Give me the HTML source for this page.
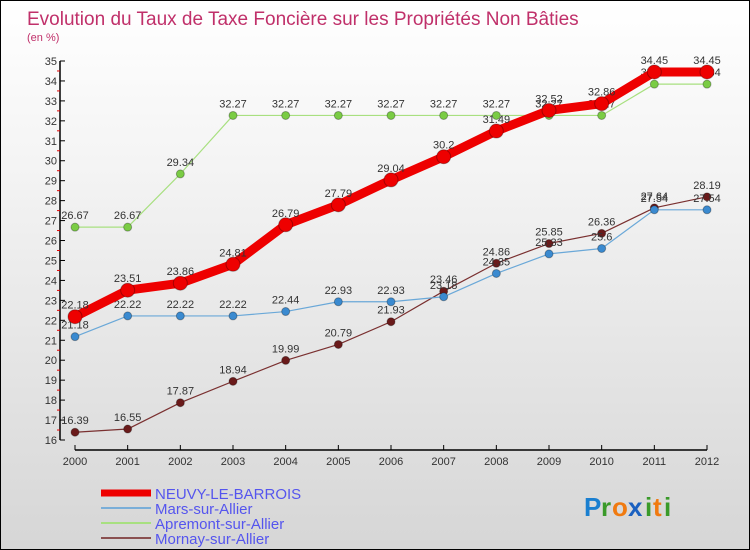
<!DOCTYPE html>
<html><head><meta charset="utf-8"><style>
body{margin:0;}
#wrap{width:748px;height:548px;border:1px solid #000;background:linear-gradient(#ffffff,#f4f4f4 30%,#d6d6d6);position:relative;overflow:hidden;font-family:"Liberation Sans",sans-serif;}
svg text{font-family:"Liberation Sans",sans-serif;}
</style></head><body>
<div id="wrap">
<svg id="chart" width="748" height="548">
<text x="26" y="24" font-size="19" fill="#c0306a">Evolution du Taux de Taxe Foncière sur les Propriétés Non Bâties</text>
<text x="26" y="40" font-size="11" fill="#c0306a">(en %)</text>
<g id="axes"></g><g id="series"></g><g id="legend"></g>
<g font-size="26" font-weight="bold">
<text x="583" y="515" fill="#1a7fd0">P</text><text x="600" y="515" fill="#3a9a2a">r</text><text x="611" y="515" fill="#f07a10">o</text><text x="627" y="515" fill="#1a60c0">x</text><text x="644" y="515" fill="#3a9a2a">i</text><text x="652" y="515" fill="#f07a10">t</text><text x="663" y="515" fill="#3a9a2a">i</text>
</g>
</svg></div>
<script>
const years=[2000,2001,2002,2003,2004,2005,2006,2007,2008,2009,2010,2011,2012];
const neuvy=[22.18,23.51,23.86,24.81,26.79,27.79,29.04,30.2,31.49,32.52,32.86,34.45,34.45];
const mars=[21.18,22.22,22.22,22.22,22.44,22.93,22.93,23.18,24.35,25.33,25.6,27.54,27.54];
const apremont=[26.67,26.67,29.34,32.27,32.27,32.27,32.27,32.27,32.27,32.27,32.27,33.84,33.84];
const mornay=[16.39,16.55,17.87,18.94,19.99,20.79,21.93,23.46,24.86,25.85,26.36,27.64,28.19];
const yTicks=[16,17,18,19,20,21,22,23,24,25,26,27,28,29,30,31,32,33,34,35];
const seriesNames=["NEUVY-LE-BARROIS","Mars-sur-Allier","Apremont-sur-Allier","Mornay-sur-Allier"];
const NS="http://www.w3.org/2000/svg";
const x=i=>74+(i)*(632/12);
const y=v=>439-(v-16)*(379/19);
function mk(tag,attrs,parent){const e=document.createElementNS(NS,tag);for(const k in attrs)e.setAttribute(k,attrs[k]);parent.appendChild(e);return e;}
const ax=document.getElementById('axes');
let a=mk('line',{x1:59,y1:y(35),x2:59,y2:y(16),stroke:'#000','stroke-width':1.5},ax);


a=mk('line',{x1:74,y1:449,x2:706,y2:449,stroke:'#000','stroke-width':1.5},ax);


yTicks.forEach(t=>{
 mk('line',{x1:59,y1:y(t),x2:64,y2:y(t),stroke:'#000'},ax);
 if(t<35)mk('line',{x1:56,y1:y(t+0.5),x2:59,y2:y(t+0.5),stroke:'#e00000'},ax);
 const tx=mk('text',{x:56,y:y(t)+4,'font-size':11,'text-anchor':'end',fill:'#333'},ax);tx.textContent=t;
 
 
});
years.forEach((yr,i)=>{
 mk('line',{x1:x(i),y1:444,x2:x(i),y2:449,stroke:'#000'},ax);
 const tx=mk('text',{x:x(i),y:464,'font-size':11,'text-anchor':'middle',fill:'#333'},ax);tx.textContent=yr;
 
 
});
const sg=document.getElementById('series');
const cfg=[
 {d:mornay,c:'#7a3030',p:'#6a1a1a',w:1.2,r:4,n:'mornay'},
 {d:mars,c:'#6aa8d8',p:'#3a8ad0',w:1.2,r:4,n:'mars'},
 {d:apremont,c:'#a8e080',p:'#7acc44',w:1.2,r:4,n:'apremont'},
 {d:neuvy,c:'#ee0000',p:'#ee0000',w:9,r:7,n:'neuvy'}];
cfg.forEach(s=>{
 const pl=mk('polyline',{points:s.d.map((v,i)=>x(i)+','+y(v)).join(' '),fill:'none',stroke:s.c,'stroke-width':s.w,'stroke-linejoin':'round'},sg);
 
 
 s.d.forEach((v,i)=>{
  const c=mk('circle',{cx:x(i),cy:y(v),r:s.r,fill:s.p,stroke:'rgba(0,0,0,0.3)'},sg);
  
  
  const t=mk('text',{x:x(i),y:y(v)-8,'font-size':11,'text-anchor':'middle',fill:'#333'},sg);t.textContent=v;
  
  
 });
});
const lg=document.getElementById('legend');
[['#ee0000',7],['#7aaed8',2],['#a8e080',2],['#8a5050',2]].forEach((c,i)=>{
 const yy=492+i*15;
 const l=mk('line',{x1:100,y1:yy,x2:150,y2:yy,stroke:c[0],'stroke-width':c[1]},lg);
 
 
 const t=mk('text',{x:154,y:yy+6,'font-size':15,fill:'#5555ee'},lg);t.textContent=seriesNames[i];
 
 
});
</script>
</body></html>
